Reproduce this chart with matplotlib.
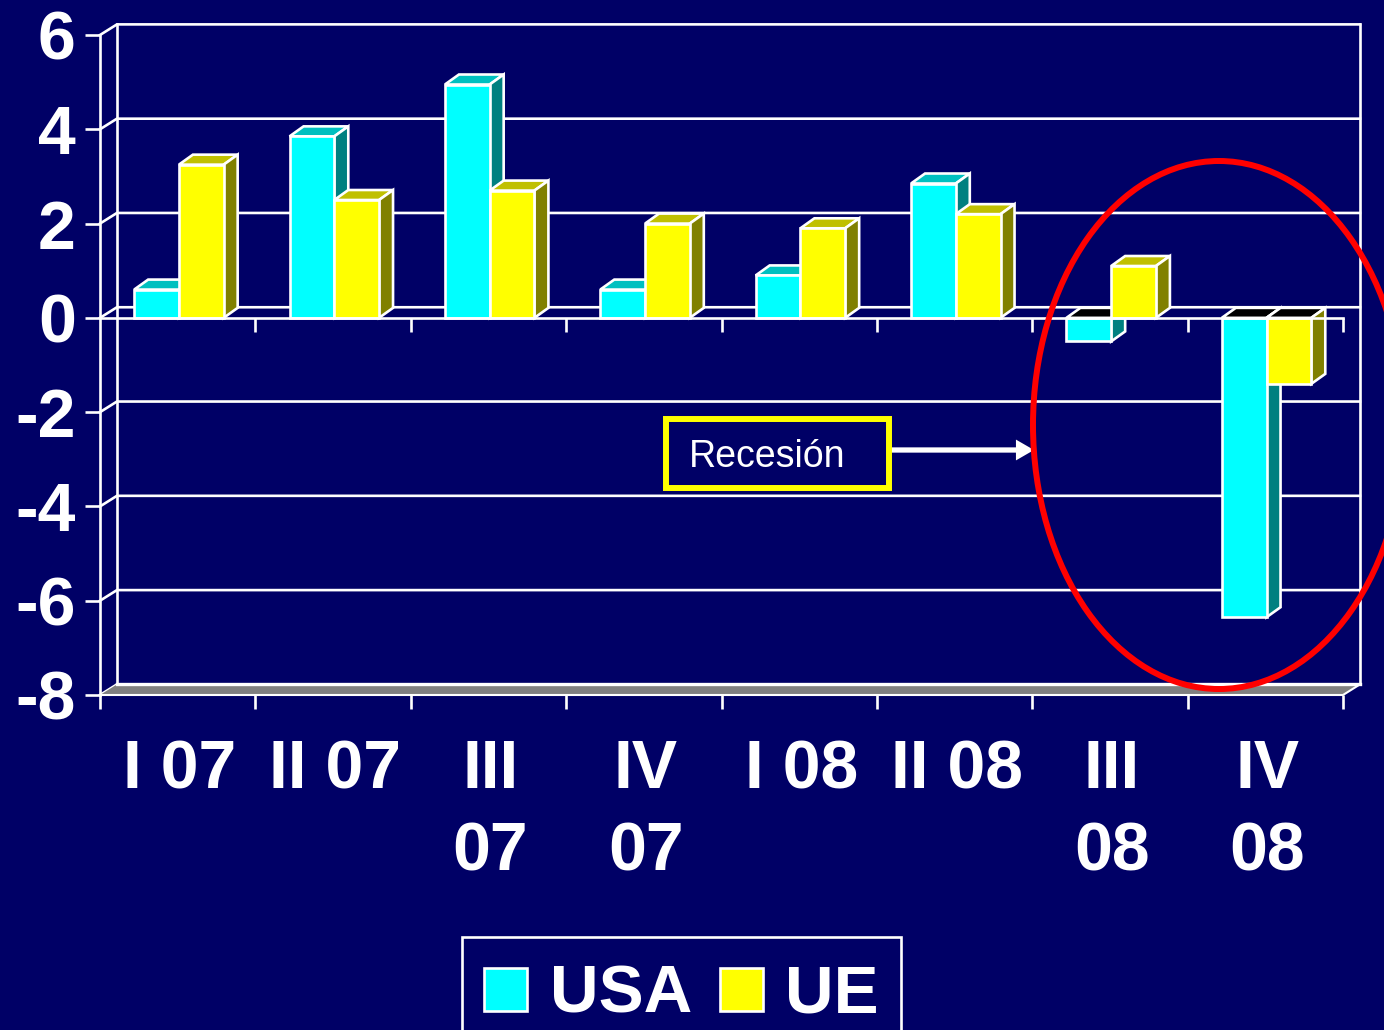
import matplotlib
matplotlib.use("Agg")
import matplotlib.pyplot as plt
from matplotlib.patches import Ellipse, Rectangle
from matplotlib.transforms import Affine2D

CATEGORIES = ["I 07", "II 07", "III\n07", "IV\n07", "I 08", "II 08", "III\n08", "IV\n08"]
USA = [0.6, 3.85, 4.95, 0.6, 0.9, 2.85, -0.5, -6.35]
UE = [3.25, 2.5, 2.7, 2.0, 1.9, 2.2, 1.1, -1.4]
Y_TICKS = [-8, -6, -4, -2, 0, 2, 4, 6]

BG = "#000066"
W, H = 1384, 1030
LW = 1.9

# depth of the fake 3d box and of the bars, in data units
WALL_DX, WALL_DY = 0.109, 0.225
BAR_DX, BAR_DY = 0.09, 0.212
BAR_W = 0.288
BAR_GAP = 0.22

plt.rcParams["font.family"] = ["Liberation Sans", "DejaVu Sans"]


def draw_bars(ax, values, offset, front, side, top, label, z):
    xs = [i + offset for i in range(len(values))]
    ax.bar(xs, values, BAR_W, align="edge", color=front, edgecolor="white",
           linewidth=LW, zorder=z + 0.02, label=label)
    for x, v in zip(xs, values):
        r = x + BAR_W
        roof = max(v, 0)
        ax.fill([x, r, r + BAR_DX, x + BAR_DX],
                [roof, roof, roof + BAR_DY, roof + BAR_DY],
                facecolor=top if v > 0 else "black", edgecolor="white",
                linewidth=LW, zorder=z, clip_on=False)
        ax.fill([r, r + BAR_DX, r + BAR_DX, r],
                [0, BAR_DY, v + BAR_DY, v],
                facecolor=side, edgecolor="white", linewidth=LW, zorder=z,
                clip_on=False)


fig = plt.figure(figsize=(W / 100, H / 100), dpi=100, facecolor=BG)
ax = fig.add_axes([100 / W, 1 - 695 / H, 1243 / W, 660 / H])
ax.patch.set_visible(False)

# back wall and floor
n = len(CATEGORIES)
for y in Y_TICKS:
    ax.plot([0, WALL_DX, n + WALL_DX], [y, y + WALL_DY, y + WALL_DY],
            color="white", lw=LW, zorder=1, clip_on=False)
ax.plot([WALL_DX, WALL_DX], [-8 + WALL_DY, 6 + WALL_DY], color="white", lw=LW, zorder=1, clip_on=False)
ax.plot([n + WALL_DX, n + WALL_DX], [-8 + WALL_DY, 6 + WALL_DY], color="white", lw=LW, zorder=1, clip_on=False)
ax.fill([0, n, n + WALL_DX, WALL_DX], [-8, -8, -8 + WALL_DY, -8 + WALL_DY],
        facecolor="#808080", edgecolor="none", zorder=1.5, clip_on=False)
ax.plot([0, n, n + WALL_DX], [-8, -8, -8 + WALL_DY], color="white", lw=1.5, zorder=1.6, clip_on=False)
ax.plot([WALL_DX, n + WALL_DX], [-8 + WALL_DY, -8 + WALL_DY], color="white", lw=2.4, zorder=1.6, clip_on=False)

draw_bars(ax, USA, BAR_GAP, "#00FFFF", "#008080", "#00C0C0", "USA", 3.0)
draw_bars(ax, UE, BAR_GAP + BAR_W, "#FFFF00", "#808000", "#C0C000", "UE", 3.1)

# axis through zero with its own ticks
ax.plot([0, n], [0, 0], color="white", lw=LW, zorder=4, clip_on=False)
ax.vlines(range(1, n + 1), -0.3, 0, color="white", lw=LW, zorder=4, clip_on=False)

ax.set_xlim(0, n)
ax.set_ylim(-8, 6)
ax.set_yticks(Y_TICKS)
ax.set_yticklabels([str(t) for t in Y_TICKS], fontsize=49, fontweight="bold", color="white")
ax.set_xticks(range(n + 1))
ax.set_xticklabels([])
ax.set_xticks([i + 0.513 for i in range(n)], minor=True)
ax.set_xticklabels(CATEGORIES, minor=True, fontsize=49, fontweight="bold", color="white",
                   linespacing=1.37)
ax.tick_params(axis="y", length=10.5, width=LW, color="white", pad=7)
ax.tick_params(axis="x", which="major", length=10, width=LW, color="white")
ax.tick_params(axis="x", which="minor", length=0, pad=31)
for name in ["top", "right"]:
    ax.spines[name].set_visible(False)
ax.spines["left"].set_color("white")
ax.spines["left"].set_linewidth(LW)
ax.spines["bottom"].set_visible(False)

# overlays placed in image pixels
px = Affine2D().scale(1, -1).translate(0, H)
fig.add_artist(Ellipse((1219, 425), 372, 528, transform=px, fill=False,
                       edgecolor="#FF0000", linewidth=4.3, zorder=10))
fig.add_artist(Rectangle((666, 419), 223, 69, transform=px, facecolor=BG,
                         edgecolor="#FFFF00", linewidth=4.3, zorder=11))
fig.text(689, 467, "Recesión", transform=px, color="white", fontsize=27,
         ha="left", va="baseline", zorder=12)
ax.annotate("", xy=(1034, 450), xytext=(891, 450),
            xycoords=px, textcoords=px, zorder=12,
            arrowprops=dict(width=3.8, headwidth=15, headlength=13, facecolor="white",
                            edgecolor="none", shrink=0))

leg = fig.legend(loc="upper left", bbox_to_anchor=(462 / W, 1 - 937 / H), ncols=2,
                 borderaxespad=0, prop=dict(weight="bold", size=48.5),
                 fancybox=False, framealpha=1, facecolor=BG, edgecolor="white",
                 handlelength=0.64, handleheight=0.6, handletextpad=0.33,
                 columnspacing=0.42, borderpad=0.33, labelcolor="white",
                 title=" ", title_fontsize=1, labelspacing=0.07)
leg.get_frame().set_linewidth(LW)

fig.savefig("out.png", dpi=100)
